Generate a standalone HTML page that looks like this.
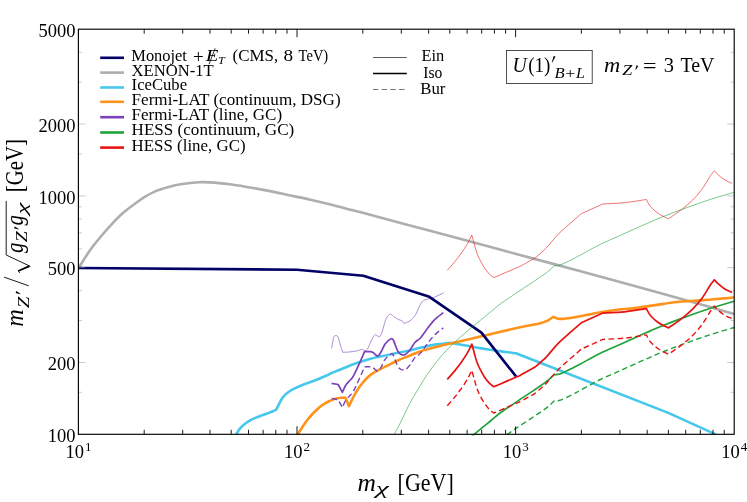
<!DOCTYPE html><html><head><meta charset="utf-8"><title>plot</title>
<style>html,body{margin:0;padding:0;background:#fff;}svg{display:block;will-change:transform;opacity:0.999;}text{font-family:"Liberation Serif",serif;fill:#000;}.i{font-style:italic;}</style></head><body>
<svg width="747" height="502" viewBox="0 0 747 502">
<rect width="747" height="502" fill="#fff"/>
<defs><clipPath id="c"><rect x="78.4" y="29.2" width="655.8" height="406.3"/></clipPath></defs>
<g clip-path="url(#c)" fill="none" stroke-linejoin="round">
<path d="M78.8,267.6 C79.5,266.5 81.6,263.2 83.0,261.0 C84.4,258.8 85.4,257.0 87.2,254.4 C89.0,251.8 91.4,248.2 93.6,245.4 C95.8,242.6 97.3,240.8 100.1,237.5 C102.9,234.2 106.3,229.9 110.2,225.8 C114.1,221.7 118.8,216.6 123.2,212.8 C127.6,209.0 132.8,205.4 136.3,202.8 C139.8,200.2 141.0,199.2 144.3,197.2 C147.6,195.2 152.0,192.7 156.3,190.9 C160.7,189.1 166.1,187.7 170.4,186.5 C174.8,185.3 177.7,184.7 182.4,184.0 C187.1,183.3 193.9,182.6 198.5,182.3 C203.1,182.0 204.7,182.1 210.0,182.4 C215.3,182.7 223.4,183.5 230.1,184.3 C236.8,185.2 243.5,186.4 250.2,187.5 C256.9,188.6 263.5,189.8 270.2,191.1 C276.9,192.4 283.6,194.1 290.3,195.5 C297.0,196.9 303.7,198.2 310.4,199.7 C317.1,201.2 323.8,202.8 330.5,204.5 C337.2,206.2 345.7,208.5 350.6,209.8 C355.5,211.1 346.8,208.6 360.0,212.1 C373.2,215.6 406.7,224.6 430.0,230.8 C453.3,237.1 475.8,243.1 500.0,249.6 C524.2,256.1 550.0,263.0 575.0,269.8 C600.0,276.6 633.0,285.5 650.0,290.2 C667.0,294.9 667.3,295.1 677.0,297.8 C686.7,300.5 698.8,303.9 708.3,306.6 C717.8,309.3 729.9,312.8 734.2,314.0" stroke="#aeaeae" stroke-width="2.6"/>
<path d="M236.3,434.3 C236.8,433.5 238.0,431.0 239.3,429.4 C240.6,427.8 242.3,426.1 244.1,424.6 C245.9,423.1 248.1,421.6 250.1,420.4 C252.1,419.2 253.1,418.8 256.1,417.6 C259.1,416.4 264.9,414.4 268.2,413.1 C271.5,411.8 274.7,410.4 276.0,409.9 C276.5,408.9 277.9,406.2 279.0,404.1 C280.1,402.0 281.3,399.4 282.7,397.5 C284.1,395.6 285.5,394.2 287.5,392.7 C289.5,391.2 291.9,389.8 294.7,388.4 C297.5,387.0 301.1,385.5 304.3,384.2 C307.5,382.9 310.5,382.2 314.1,380.8 C317.7,379.4 323.1,377.1 326.1,375.8 C329.1,374.5 329.0,374.1 332.0,372.8 C335.0,371.5 340.0,369.6 344.0,368.0 C348.0,366.4 352.1,364.6 356.1,363.2 C360.1,361.8 364.2,360.5 368.2,359.4 C372.2,358.3 376.2,357.4 380.2,356.5 C384.2,355.6 387.3,354.9 392.3,353.9 C397.3,352.9 405.4,351.5 410.0,350.5 C414.6,349.5 415.8,348.8 420.2,347.8 C424.6,346.8 431.3,345.2 436.2,344.4 C441.1,343.6 447.4,343.1 449.6,342.8 C452.0,343.2 457.7,344.1 464.1,345.2 C470.5,346.3 479.6,348.1 488.2,349.5 C496.8,350.9 511.3,352.7 515.9,353.3 L668.3,412.9 L715.7,434.4" stroke="#45c8ec" stroke-width="2.6"/>
<path d="M297.6,434.6 C298.2,433.6 300.2,430.5 301.5,428.5 C302.8,426.5 304.0,424.5 305.3,422.7 C306.6,420.9 308.0,419.2 309.3,417.6 C310.6,416.0 312.0,414.4 313.4,413.0 C314.8,411.6 316.1,410.4 317.4,409.2 C318.7,408.0 320.1,406.8 321.4,405.8 C322.7,404.8 324.1,404.0 325.4,403.2 C326.7,402.4 328.1,401.6 329.4,401.0 C330.7,400.4 332.0,399.8 333.4,399.4 C334.8,398.9 336.1,398.6 337.5,398.3 C338.9,398.0 340.2,397.9 341.5,397.8 C342.8,397.7 344.8,397.7 345.4,397.7 L349.0,406.1 C349.6,404.8 351.3,401.0 352.7,398.3 C354.1,395.6 355.9,392.4 357.5,389.9 C359.1,387.4 360.5,385.5 362.3,383.3 C364.1,381.1 366.3,378.6 368.3,376.8 C370.3,375.0 372.4,373.6 374.3,372.4 C376.2,371.1 378.0,370.3 380.0,369.3 C382.0,368.3 383.2,367.7 386.3,366.2 C389.4,364.7 394.4,362.1 398.3,360.3 C402.2,358.5 406.4,357.0 410.0,355.5 C413.6,354.0 415.2,353.0 420.2,351.4 C425.2,349.8 433.5,347.7 440.2,346.0 C446.9,344.3 453.6,342.8 460.3,341.2 C467.0,339.6 473.7,338.2 480.4,336.6 C487.1,335.0 493.9,333.4 500.5,331.8 C507.1,330.2 513.5,328.7 520.1,327.3 C526.7,325.9 535.5,324.5 540.2,323.3 C544.9,322.1 546.0,321.4 548.2,320.3 C550.4,319.2 552.4,317.5 553.2,316.9 C554.0,317.2 556.4,318.4 558.2,318.7 C560.1,319.0 560.6,319.1 564.3,318.7 C568.0,318.3 574.3,317.4 580.3,316.3 C586.3,315.2 593.7,313.5 600.4,312.3 C607.1,311.1 615.6,309.9 620.5,309.3 C625.4,308.7 624.5,309.2 630.0,308.6 C635.5,308.0 645.7,306.5 653.5,305.4 C661.3,304.3 669.2,302.8 677.0,302.0 C684.8,301.2 692.7,301.0 700.5,300.4 C708.3,299.8 718.4,298.9 724.0,298.4 C729.6,297.9 732.5,297.5 734.2,297.3" stroke="#ff9219" stroke-width="2.6"/>
<path d="M331.7,348.3 C331.9,347.1 332.4,343.3 332.8,341.4 C333.2,339.5 333.3,337.9 333.8,336.9 C334.3,335.9 335.2,335.6 335.9,335.6 C336.6,335.6 337.3,335.5 338.0,336.9 C338.7,338.3 339.3,341.5 340.1,344.1 C340.9,346.7 342.4,350.9 342.8,352.3 C343.9,352.2 346.8,352.2 349.1,352.0 C351.4,351.8 354.3,351.3 356.5,350.9 C358.7,350.4 361.3,349.6 362.3,349.3 C362.6,349.5 363.6,350.6 364.4,350.6 C365.2,350.6 366.3,350.6 367.3,349.3 C368.3,348.0 369.2,345.1 370.2,343.0 C371.2,340.9 372.5,338.1 373.4,336.7 C374.3,335.3 375.1,334.8 375.5,334.4 C375.8,334.6 376.4,335.4 377.1,335.8 C377.8,336.2 379.3,336.6 379.7,336.7 C380.1,336.0 381.2,334.4 381.9,332.5 C382.6,330.6 383.3,327.4 384.0,325.1 C384.7,322.8 385.4,320.3 386.1,318.7 C386.8,317.1 387.4,316.4 388.2,315.6 C388.9,314.8 389.6,313.9 390.6,314.1 C391.7,314.4 393.1,316.2 394.5,317.1 C395.9,318.0 397.5,319.0 398.7,319.6 C399.9,320.2 401.0,320.1 401.9,320.7 C402.8,321.3 403.6,323.0 404.0,323.5 C404.6,323.2 406.5,322.6 407.7,322.0 C408.9,321.4 410.1,321.0 411.4,319.8 C412.7,318.6 414.4,316.6 415.6,314.6 C416.8,312.6 417.7,309.8 418.8,307.7 C419.9,305.6 420.9,303.2 422.0,301.9 C423.1,300.6 423.9,300.3 425.1,299.8 C426.3,299.3 427.7,299.1 429.3,298.7 C430.9,298.2 432.2,298.1 434.6,297.1 C437.0,296.1 442.1,293.6 443.6,292.9" stroke="#7a41b8" stroke-width="0.6"/>
<path d="M331.6,383.3 L338.2,384.5 L342.4,392.3 C342.9,391.2 344.3,387.5 345.4,385.7 C346.5,383.9 347.8,382.8 349.0,381.4 C350.2,380.0 351.5,379.0 352.7,377.2 C353.9,375.4 354.8,373.3 356.2,370.4 C357.6,367.5 359.6,362.9 361.0,359.8 C362.4,356.7 364.0,353.0 364.6,351.6 C365.4,351.6 368.0,351.5 369.4,351.6 C370.8,351.8 371.6,351.8 373.0,352.5 C374.4,353.2 376.4,356.3 377.8,356.1 C379.2,355.9 380.2,353.3 381.4,351.3 C382.6,349.3 383.5,346.2 385.1,344.1 C386.7,342.0 389.7,339.3 391.1,338.7 C392.5,338.1 392.3,338.3 393.5,340.5 C394.7,342.7 396.5,349.5 398.3,351.9 C400.1,354.3 402.4,355.2 404.3,354.9 C406.2,354.5 408.2,351.9 410.0,349.8 C411.8,347.7 413.4,344.1 415.1,342.2 C416.8,340.3 418.4,340.2 420.2,338.2 C422.0,336.2 423.9,333.2 426.2,330.2 C428.5,327.2 431.3,323.0 434.2,320.1 C437.1,317.2 441.8,313.9 443.3,312.7" stroke="#7a41b8" stroke-width="1.7"/>
<path d="M331.6,398.5 L338.2,399.7 L342.4,407.5 C342.9,406.4 344.3,402.7 345.4,400.9 C346.5,399.1 347.8,398.0 349.0,396.6 C350.2,395.2 351.5,394.2 352.7,392.4 C353.9,390.6 354.8,388.5 356.2,385.6 C357.6,382.7 359.6,378.1 361.0,375.0 C362.4,371.9 364.0,368.2 364.6,366.8 C365.4,366.8 368.0,366.7 369.4,366.8 C370.8,366.9 371.6,366.9 373.0,367.7 C374.4,368.4 376.4,371.5 377.8,371.3 C379.2,371.1 380.2,368.5 381.4,366.5 C382.6,364.5 383.5,361.4 385.1,359.3 C386.7,357.2 389.7,354.5 391.1,353.9 C392.5,353.3 392.3,353.5 393.5,355.7 C394.7,357.9 396.5,364.7 398.3,367.1 C400.1,369.5 402.4,370.4 404.3,370.1 C406.2,369.8 408.2,367.1 410.0,365.0 C411.8,362.9 413.4,359.3 415.1,357.4 C416.8,355.5 418.4,355.4 420.2,353.4 C422.0,351.4 423.9,348.4 426.2,345.4 C428.5,342.4 431.3,338.2 434.2,335.3 C437.1,332.4 441.8,329.1 443.3,327.9" stroke="#7a41b8" stroke-width="1.4" stroke-dasharray="5.6 3.3"/>
<path d="M78.4,268.0 L297.0,269.7 L363.3,275.7 L428.6,296.4 L481.4,332.6 L516.0,376.4" stroke="#000066" stroke-width="2.6"/>
<path d="M394.4,434.3 C395.4,432.3 398.6,426.3 400.7,422.2 C402.8,418.1 404.7,413.5 406.7,409.5 C408.7,405.5 410.7,401.6 412.7,398.1 C414.7,394.6 416.7,391.5 418.5,388.5 C420.3,385.5 421.7,383.0 423.6,380.0 C425.6,377.0 427.4,374.1 430.2,370.3 C433.0,366.5 436.2,361.9 440.2,357.3 C444.2,352.7 448.9,347.7 454.3,342.6 C459.7,337.5 466.4,332.0 472.4,326.9 C478.4,321.8 485.6,316.0 490.4,312.1 C495.2,308.2 497.8,305.9 501.1,303.4 C504.5,300.9 507.3,299.1 510.5,297.0 C513.7,294.9 515.1,293.8 520.1,290.5 C525.1,287.2 535.5,280.3 540.2,277.1 C544.9,273.9 545.9,273.2 548.2,271.3 C550.5,269.4 553.2,266.6 554.2,265.7 C555.2,265.6 557.2,266.1 560.2,265.0 C563.2,263.9 568.9,261.0 572.3,259.4 C575.6,257.8 575.6,257.6 580.3,255.1 C585.0,252.6 593.7,247.6 600.4,244.3 C607.1,241.0 614.3,238.1 620.5,235.3 C626.7,232.5 632.9,229.7 637.8,227.5 C642.7,225.3 646.1,223.9 650.0,222.2 C653.9,220.5 656.0,219.4 661.3,217.3 C666.6,215.2 673.9,212.4 681.7,209.5 C689.5,206.6 699.5,203.0 708.3,200.1 C717.0,197.2 729.9,193.6 734.2,192.3" stroke="#1fa23a" stroke-width="0.6"/>
<path d="M394.4,543.2 C395.4,541.2 398.6,535.2 400.7,531.1 C402.8,527.0 404.7,522.4 406.7,518.4 C408.7,514.4 410.7,510.5 412.7,507.0 C414.7,503.5 416.7,500.4 418.5,497.4 C420.3,494.4 421.7,491.9 423.6,488.9 C425.6,485.9 427.4,483.0 430.2,479.2 C433.0,475.4 436.2,470.8 440.2,466.2 C444.2,461.6 448.9,456.6 454.3,451.5 C459.7,446.4 466.4,440.9 472.4,435.8 C478.4,430.7 485.6,424.9 490.4,421.0 C495.2,417.1 497.8,414.8 501.1,412.3 C504.5,409.8 507.3,408.0 510.5,405.9 C513.7,403.8 515.1,402.7 520.1,399.4 C525.1,396.1 535.5,389.2 540.2,386.0 C544.9,382.8 545.9,382.1 548.2,380.2 C550.5,378.3 553.2,375.5 554.2,374.6 C555.2,374.5 557.2,374.9 560.2,373.9 C563.2,372.8 568.9,369.9 572.3,368.3 C575.6,366.6 575.6,366.5 580.3,364.0 C585.0,361.5 593.7,356.5 600.4,353.2 C607.1,349.9 614.3,347.0 620.5,344.2 C626.7,341.4 632.9,338.6 637.8,336.4 C642.7,334.2 646.1,332.8 650.0,331.1 C653.9,329.4 656.0,328.3 661.3,326.2 C666.6,324.1 673.9,321.3 681.7,318.4 C689.5,315.5 699.5,311.9 708.3,309.0 C717.0,306.1 729.9,302.5 734.2,301.2" stroke="#1fa23a" stroke-width="1.7"/>
<path d="M394.4,569.5 C395.4,567.5 398.6,561.5 400.7,557.4 C402.8,553.3 404.7,548.7 406.7,544.7 C408.7,540.7 410.7,536.8 412.7,533.3 C414.7,529.8 416.7,526.7 418.5,523.7 C420.3,520.7 421.7,518.2 423.6,515.2 C425.6,512.2 427.4,509.3 430.2,505.5 C433.0,501.7 436.2,497.1 440.2,492.5 C444.2,487.9 448.9,482.9 454.3,477.8 C459.7,472.7 466.4,467.2 472.4,462.1 C478.4,457.0 485.6,451.2 490.4,447.3 C495.2,443.4 497.8,441.1 501.1,438.6 C504.5,436.1 507.3,434.4 510.5,432.2 C513.7,430.1 515.1,429.0 520.1,425.7 C525.1,422.4 535.5,415.5 540.2,412.3 C544.9,409.1 545.9,408.4 548.2,406.5 C550.5,404.6 553.2,401.8 554.2,400.9 C555.2,400.8 557.2,401.3 560.2,400.2 C563.2,399.2 568.9,396.2 572.3,394.6 C575.6,393.0 575.6,392.8 580.3,390.3 C585.0,387.8 593.7,382.8 600.4,379.5 C607.1,376.2 614.3,373.3 620.5,370.5 C626.7,367.7 632.9,364.9 637.8,362.7 C642.7,360.5 646.1,359.1 650.0,357.4 C653.9,355.7 656.0,354.6 661.3,352.5 C666.6,350.4 673.9,347.6 681.7,344.7 C689.5,341.8 699.5,338.2 708.3,335.3 C717.0,332.4 729.9,328.8 734.2,327.5" stroke="#1fa23a" stroke-width="1.4" stroke-dasharray="5.6 3.3"/>
<path d="M447.3,270.3 C448.5,268.9 452.2,264.8 454.5,262.0 C456.8,259.2 458.8,256.7 461.0,253.6 C463.2,250.5 465.9,246.4 467.7,243.3 C469.5,240.2 471.1,236.4 471.8,235.0 C472.2,236.5 473.5,241.1 474.3,244.0 C475.1,246.9 475.8,249.8 476.7,252.4 C477.6,255.0 478.5,257.0 479.8,259.6 C481.1,262.2 483.0,265.7 484.6,268.1 C486.2,270.5 487.9,272.5 489.4,274.1 C490.9,275.7 493.1,277.0 493.8,277.6 C495.9,276.7 502.6,273.9 506.3,272.3 C510.0,270.7 513.6,269.1 515.9,268.1 C518.2,267.1 516.9,268.0 520.1,266.3 C523.3,264.6 532.6,259.4 535.1,258.0 C537.0,256.3 542.2,252.1 546.2,248.0 C550.2,243.9 553.4,239.0 559.2,233.3 C565.1,227.6 577.6,217.0 581.3,213.7 L602.8,204.0 C606.4,203.8 617.2,203.4 624.5,202.7 C631.8,201.9 642.8,200.0 646.4,199.5 C647.1,200.7 648.4,204.1 650.4,206.4 C652.4,208.7 655.2,211.3 658.2,213.4 C661.2,215.5 666.7,218.0 668.4,218.9 C670.6,217.3 677.7,212.6 681.7,209.5 C685.7,206.4 689.2,203.5 692.6,200.1 C696.0,196.7 699.1,193.1 702.0,189.2 C704.9,185.3 707.9,179.7 709.9,176.6 C711.9,173.5 713.6,171.7 714.3,170.7 C714.9,171.3 716.1,172.9 717.7,174.3 C719.3,175.8 721.6,177.9 724.0,179.4 C726.4,180.9 730.7,182.7 732.0,183.3" stroke="#e91212" stroke-width="0.6"/>
<path d="M447.3,379.4 C448.5,378.0 452.2,373.9 454.5,371.1 C456.8,368.3 458.8,365.8 461.0,362.7 C463.2,359.6 465.9,355.5 467.7,352.4 C469.5,349.3 471.1,345.5 471.8,344.1 C472.2,345.6 473.5,350.2 474.3,353.1 C475.1,356.0 475.8,358.9 476.7,361.5 C477.6,364.1 478.5,366.1 479.8,368.7 C481.1,371.3 483.0,374.8 484.6,377.2 C486.2,379.6 487.9,381.6 489.4,383.2 C490.9,384.8 493.1,386.1 493.8,386.7 C495.9,385.8 502.6,383.0 506.3,381.4 C510.0,379.8 513.6,378.2 515.9,377.2 C518.2,376.2 516.9,377.1 520.1,375.4 C523.3,373.7 532.6,368.5 535.1,367.1 C537.0,365.4 542.2,361.2 546.2,357.1 C550.2,353.0 553.4,348.1 559.2,342.4 C565.1,336.7 577.6,326.1 581.3,322.8 L602.8,313.1 C606.4,312.9 617.2,312.5 624.5,311.8 C631.8,311.0 642.8,309.1 646.4,308.6 C647.1,309.8 648.4,313.2 650.4,315.5 C652.4,317.8 655.2,320.4 658.2,322.5 C661.2,324.6 666.7,327.1 668.4,328.0 C670.6,326.4 677.7,321.7 681.7,318.6 C685.7,315.5 689.2,312.6 692.6,309.2 C696.0,305.8 699.1,302.2 702.0,298.3 C704.9,294.4 707.9,288.8 709.9,285.7 C711.9,282.6 713.6,280.8 714.3,279.8 C714.9,280.4 716.1,281.9 717.7,283.4 C719.3,284.8 721.6,287.0 724.0,288.5 C726.4,290.0 730.7,291.8 732.0,292.4" stroke="#e91212" stroke-width="1.7"/>
<path d="M447.3,405.7 C448.5,404.3 452.2,400.2 454.5,397.4 C456.8,394.6 458.8,392.1 461.0,389.0 C463.2,385.9 465.9,381.8 467.7,378.7 C469.5,375.6 471.1,371.8 471.8,370.4 C472.2,371.9 473.5,376.5 474.3,379.4 C475.1,382.3 475.8,385.2 476.7,387.8 C477.6,390.4 478.5,392.4 479.8,395.0 C481.1,397.6 483.0,401.1 484.6,403.5 C486.2,405.9 487.9,407.9 489.4,409.5 C490.9,411.1 493.1,412.4 493.8,413.0 C495.9,412.1 502.6,409.3 506.3,407.7 C510.0,406.1 513.6,404.5 515.9,403.5 C518.2,402.5 516.9,403.4 520.1,401.7 C523.3,400.0 532.6,394.8 535.1,393.4 C537.0,391.7 542.2,387.5 546.2,383.4 C550.2,379.3 553.4,374.4 559.2,368.7 C565.1,363.0 577.6,352.4 581.3,349.1 L602.8,339.4 C606.4,339.2 617.2,338.9 624.5,338.1 C631.8,337.4 642.8,335.4 646.4,334.9 C647.1,336.0 648.4,339.5 650.4,341.8 C652.4,344.1 655.2,346.7 658.2,348.8 C661.2,350.9 666.7,353.4 668.4,354.3 C670.6,352.7 677.7,348.0 681.7,344.9 C685.7,341.8 689.2,338.9 692.6,335.5 C696.0,332.1 699.1,328.5 702.0,324.6 C704.9,320.7 707.9,315.1 709.9,312.0 C711.9,308.9 713.6,307.1 714.3,306.1 C714.9,306.7 716.1,308.3 717.7,309.7 C719.3,311.2 721.6,313.3 724.0,314.8 C726.4,316.3 730.7,318.1 732.0,318.7" stroke="#e91212" stroke-width="1.4" stroke-dasharray="5.6 3.3"/>
</g>
<path d="M144.2,434.3 v-4.5 M144.2,29.2 v4.5 M182.7,434.3 v-4.5 M182.7,29.2 v4.5 M210.0,434.3 v-4.5 M210.0,29.2 v4.5 M231.2,434.3 v-4.5 M231.2,29.2 v4.5 M248.5,434.3 v-4.5 M248.5,29.2 v4.5 M263.1,434.3 v-4.5 M263.1,29.2 v4.5 M275.8,434.3 v-4.5 M275.8,29.2 v4.5 M287.0,434.3 v-4.5 M287.0,29.2 v4.5 M297.0,434.3 v-8.0 M297.0,29.2 v8.0 M362.8,434.3 v-4.5 M362.8,29.2 v4.5 M401.3,434.3 v-4.5 M401.3,29.2 v4.5 M428.6,434.3 v-4.5 M428.6,29.2 v4.5 M449.8,434.3 v-4.5 M449.8,29.2 v4.5 M467.1,434.3 v-4.5 M467.1,29.2 v4.5 M481.7,434.3 v-4.5 M481.7,29.2 v4.5 M494.4,434.3 v-4.5 M494.4,29.2 v4.5 M505.6,434.3 v-4.5 M505.6,29.2 v4.5 M515.6,434.3 v-8.0 M515.6,29.2 v8.0 M581.4,434.3 v-4.5 M581.4,29.2 v4.5 M619.9,434.3 v-4.5 M619.9,29.2 v4.5 M647.2,434.3 v-4.5 M647.2,29.2 v4.5 M668.4,434.3 v-4.5 M668.4,29.2 v4.5 M685.7,434.3 v-4.5 M685.7,29.2 v4.5 M700.3,434.3 v-4.5 M700.3,29.2 v4.5 M713.0,434.3 v-4.5 M713.0,29.2 v4.5 M724.2,434.3 v-4.5 M724.2,29.2 v4.5" stroke="#000" stroke-width="0.9" fill="none"/>
<path d="M78.4,362.5 h7 M734.2,362.5 h-7 M78.4,267.6 h7 M734.2,267.6 h-7 M78.4,195.9 h7 M734.2,195.9 h-7 M78.4,124.1 h7 M734.2,124.1 h-7 M78.4,392.3 h3.5 M734.2,392.3 h-3.5 M78.4,320.5 h3.5 M734.2,320.5 h-3.5 M78.4,290.7 h3.5 M734.2,290.7 h-3.5 M78.4,248.8 h3.5 M734.2,248.8 h-3.5 M78.4,232.8 h3.5 M734.2,232.8 h-3.5 M78.4,219.0 h3.5 M734.2,219.0 h-3.5 M78.4,206.8 h3.5 M734.2,206.8 h-3.5 M78.4,153.9 h3.5 M734.2,153.9 h-3.5 M78.4,82.1 h3.5 M734.2,82.1 h-3.5 M78.4,52.3 h3.5 M734.2,52.3 h-3.5" stroke="#999" stroke-width="0.5" fill="none"/>
<rect x="78.4" y="29.2" width="655.8" height="405.1" fill="none" stroke="#000" stroke-width="1.15"/>
<text x="75.6" y="442.0" font-size="18.5" text-anchor="end">100</text>
<text x="75.6" y="370.2" font-size="18.5" text-anchor="end">200</text>
<text x="75.6" y="275.3" font-size="18.5" text-anchor="end">500</text>
<text x="75.6" y="203.6" font-size="18.5" text-anchor="end">1000</text>
<text x="75.6" y="131.8" font-size="18.5" text-anchor="end">2000</text>
<text x="75.6" y="36.9" font-size="18.5" text-anchor="end">5000</text>
<text x="65.5" y="458" font-size="18.5">10</text><text x="85.0" y="451.2" font-size="13">1</text>
<text x="284.1" y="458" font-size="18.5">10</text><text x="303.6" y="451.2" font-size="13">2</text>
<text x="502.7" y="458" font-size="18.5">10</text><text x="522.2" y="451.2" font-size="13">3</text>
<text x="721.3" y="458" font-size="18.5">10</text><text x="740.8" y="451.2" font-size="13">4</text>
<path d="M100.2,57.8 H124" stroke="#000066" stroke-width="2.6" fill="none"/>
<path d="M100.2,72.6 H124" stroke="#aeaeae" stroke-width="2.6" fill="none"/>
<text x="131.6" y="75.5" font-size="16.2" textLength="82.1" lengthAdjust="spacingAndGlyphs">XENON-1T</text>
<path d="M100.2,87.5 H124" stroke="#45c8ec" stroke-width="2.6" fill="none"/>
<text x="131.6" y="90.4" font-size="16.2" textLength="55.5" lengthAdjust="spacingAndGlyphs">IceCube</text>
<path d="M100.2,101.8 H124" stroke="#ff9219" stroke-width="2.6" fill="none"/>
<text x="131.6" y="104.7" font-size="16.2" textLength="209.0" lengthAdjust="spacingAndGlyphs">Fermi-LAT (continuum, DSG)</text>
<path d="M100.2,117.2 H124" stroke="#7a41b8" stroke-width="2.6" fill="none"/>
<text x="131.6" y="120.1" font-size="16.2" textLength="150.5" lengthAdjust="spacingAndGlyphs">Fermi-LAT (line, GC)</text>
<path d="M100.2,132.5 H124" stroke="#1fa23a" stroke-width="2.6" fill="none"/>
<text x="131.6" y="135.4" font-size="16.2" textLength="162.6" lengthAdjust="spacingAndGlyphs">HESS (continuum, GC)</text>
<path d="M100.2,147.6 H124" stroke="#e91212" stroke-width="2.6" fill="none"/>
<text x="131.6" y="150.5" font-size="16.2" textLength="114.0" lengthAdjust="spacingAndGlyphs">HESS (line, GC)</text>
<text x="131.3" y="60.7" font-size="16.2" textLength="55.6" lengthAdjust="spacingAndGlyphs">Monojet</text>
<text x="192.9" y="62.6" font-size="19">+</text>
<text x="205.8" y="60.7" font-size="16.2" textLength="12.6" lengthAdjust="spacingAndGlyphs" class="i">E</text>
<path d="M209.0,64.2 L215.2,48.3" stroke="#000" stroke-width="0.8"/>
<text x="218.0" y="63.5" font-size="11" textLength="6.8" lengthAdjust="spacingAndGlyphs" class="i">T</text>
<text x="232.5" y="60.7" font-size="16.2" textLength="45.7" lengthAdjust="spacingAndGlyphs">(CMS,</text>
<text x="283.5" y="60.7" font-size="16.2" textLength="9.6" lengthAdjust="spacingAndGlyphs">8</text>
<text x="298.6" y="60.7" font-size="16.2" textLength="29.6" lengthAdjust="spacingAndGlyphs">TeV)</text>
<path d="M373,57.5 H406.8" stroke="#000" stroke-width="0.65" fill="none"/>
<path d="M373,73.5 H406.8" stroke="#000" stroke-width="1.5" fill="none"/>
<path d="M373,89.5 H406.8" stroke="#000" stroke-width="0.55" stroke-dasharray="5.4 3.3" fill="none"/>
<text x="421.4" y="61.4" font-size="16.2" textLength="22.8" lengthAdjust="spacingAndGlyphs">Ein</text>
<text x="423.3" y="77.5" font-size="16.2" textLength="19.0" lengthAdjust="spacingAndGlyphs">Iso</text>
<text x="420.2" y="93.5" font-size="16.2" textLength="25.2" lengthAdjust="spacingAndGlyphs">Bur</text>
<rect x="506.4" y="50.4" width="85.8" height="33" fill="#fff" stroke="#222" stroke-width="0.8"/>
<text x="512.6" y="72.1" font-size="20.5" textLength="14.2" lengthAdjust="spacingAndGlyphs" class="i">U</text>
<text x="528.2" y="72.1" font-size="20.5" textLength="22.2" lengthAdjust="spacingAndGlyphs">(1)</text>
<path d="M553.7,55.9 L555.5,56.6 L552.3,62.5 L551.8,62.2 Z" fill="#000"/>
<text x="554.4" y="77.7" font-size="14" textLength="10.2" lengthAdjust="spacingAndGlyphs" class="i">B</text>
<text x="565.2" y="77.7" font-size="14" textLength="10.0" lengthAdjust="spacingAndGlyphs">+</text>
<text x="576.0" y="77.7" font-size="14" textLength="8.8" lengthAdjust="spacingAndGlyphs" class="i">L</text>
<text x="604.0" y="72.1" font-size="20.5" textLength="16.2" lengthAdjust="spacingAndGlyphs" class="i">m</text>
<text x="622.3" y="75.4" font-size="14" textLength="10.0" lengthAdjust="spacingAndGlyphs" class="i">Z</text>
<path d="M636.5,65.2 L638.3,65.9 L635.9,69.8 L635.4,69.5 Z" fill="#000"/>
<text x="643.0" y="72.7" font-size="20.5" textLength="13.5" lengthAdjust="spacingAndGlyphs">=</text>
<text x="663.8" y="72.1" font-size="20.5">3</text>
<text x="680.4" y="72.1" font-size="20.5" textLength="34.0" lengthAdjust="spacingAndGlyphs">TeV</text>
<text x="357.4" y="490.9" font-size="24.2" textLength="18.4" lengthAdjust="spacingAndGlyphs" class="i">m</text>
<text x="375.8" y="494.4" font-size="16" textLength="13.0" lengthAdjust="spacingAndGlyphs" class="i">χ</text>
<text x="397.6" y="490.9" font-size="24.2" textLength="56.2" lengthAdjust="spacingAndGlyphs">[GeV]</text>
<g transform="translate(0,326.8) rotate(-90)">
<text x="0.0" y="23.1" font-size="24.6" textLength="17.6" lengthAdjust="spacingAndGlyphs" class="i">m</text>
<text x="18.6" y="29.4" font-size="16.5" textLength="11.6" lengthAdjust="spacingAndGlyphs" class="i">Z</text>
<g transform="translate(32.6,15.6)">
<path d="M1.3,0.0 L3.1,0.7 L0.5,4.8 L0.0,4.5 Z" fill="#000"/>
</g>
<path d="M41.0,28.7 L49.7,4.0" stroke="#000" stroke-width="0.9" fill="none"/>
<path d="M53.8,19.8 L56.0,18.3" stroke="#000" stroke-width="0.8" fill="none"/>
<path d="M55.8,18.2 L60.6,29.4" stroke="#000" stroke-width="1.9" fill="none"/>
<path d="M60.4,30.4 L71.8,6.2 H125.8" stroke="#000" stroke-width="0.9" fill="none" stroke-linejoin="miter"/>
<text x="73.8" y="23.1" font-size="24.6" textLength="10.4" lengthAdjust="spacingAndGlyphs" class="i">g</text>
<text x="84.6" y="27.4" font-size="16.5" textLength="11.0" lengthAdjust="spacingAndGlyphs" class="i">Z</text>
<g transform="translate(97.2,14.0)">
<path d="M1.3,0.0 L3.1,0.7 L0.5,4.8 L0.0,4.5 Z" fill="#000"/>
</g>
<text x="101.4" y="23.1" font-size="24.6" textLength="10.4" lengthAdjust="spacingAndGlyphs" class="i">g</text>
<text x="112.4" y="27.2" font-size="15.5" textLength="12.0" lengthAdjust="spacingAndGlyphs" class="i">χ</text>
<text x="134.6" y="23.1" font-size="25" textLength="53.2" lengthAdjust="spacingAndGlyphs">[GeV]</text>
</g>
</svg></body></html>
